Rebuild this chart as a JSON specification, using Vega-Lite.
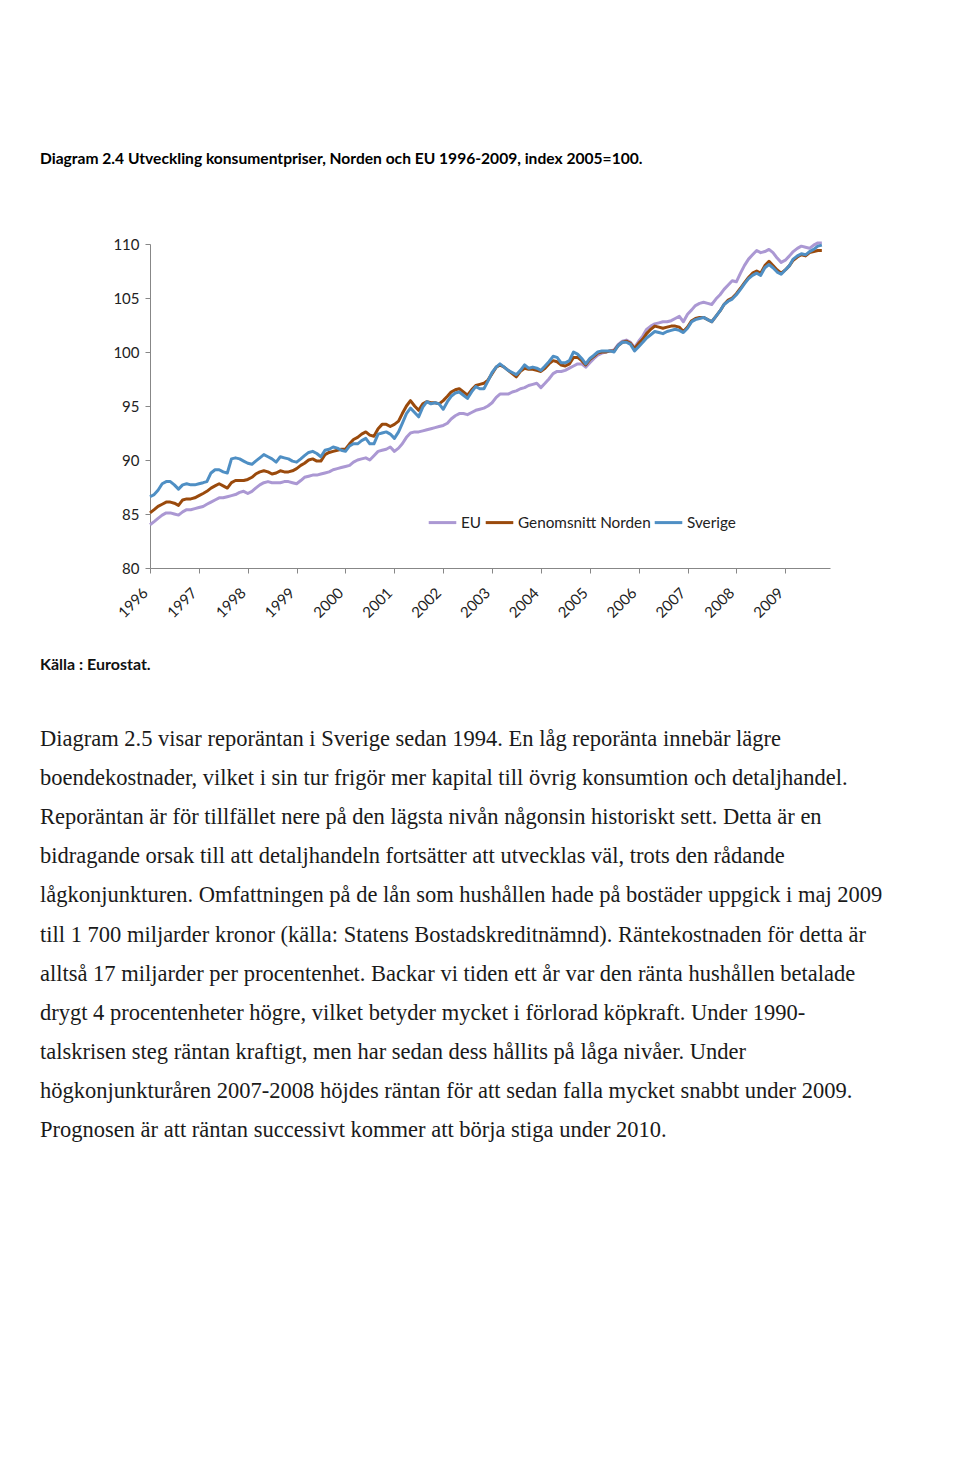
{
"$schema": "https://vega.github.io/schema/vega-lite/v6.json",
"width": 680, "height": 324,
"autosize": {"type": "none"},
"padding": {"left": 150, "top": 244, "right": 130, "bottom": 893},
"background": "white",
"title": {"text": "Diagram 2.4 Utveckling konsumentpriser, Norden och EU 1996-2009, index 2005=100.", "anchor": "start", "frame": "group", "dx": -110, "offset": 69, "font": "Lato", "fontSize": 15.6, "fontWeight": "bold", "color": "#000000"},
"config": {"view": {"stroke": null}, "font": "Lato"},
"resolve": {"scale": {"y": "independent"}},
"layer": [
{
"data": {"values": [
{"d":"1996-01","EU":84.0,"Genomsnitt Norden":85.1,"Sverige":86.6},
{"d":"1996-02","EU":84.3,"Genomsnitt Norden":85.4,"Sverige":86.8},
{"d":"1996-03","EU":84.6,"Genomsnitt Norden":85.7,"Sverige":87.2},
{"d":"1996-04","EU":84.9,"Genomsnitt Norden":85.9,"Sverige":87.8},
{"d":"1996-05","EU":85.1,"Genomsnitt Norden":86.1,"Sverige":88.0},
{"d":"1996-06","EU":85.1,"Genomsnitt Norden":86.1,"Sverige":88.0},
{"d":"1996-07","EU":85.0,"Genomsnitt Norden":86.0,"Sverige":87.7},
{"d":"1996-08","EU":84.9,"Genomsnitt Norden":85.8,"Sverige":87.3},
{"d":"1996-09","EU":85.2,"Genomsnitt Norden":86.3,"Sverige":87.7},
{"d":"1996-10","EU":85.4,"Genomsnitt Norden":86.4,"Sverige":87.8},
{"d":"1996-11","EU":85.4,"Genomsnitt Norden":86.4,"Sverige":87.7},
{"d":"1996-12","EU":85.5,"Genomsnitt Norden":86.5,"Sverige":87.7},
{"d":"1997-01","EU":85.6,"Genomsnitt Norden":86.7,"Sverige":87.8},
{"d":"1997-02","EU":85.7,"Genomsnitt Norden":86.9,"Sverige":87.9},
{"d":"1997-03","EU":85.9,"Genomsnitt Norden":87.1,"Sverige":88.0},
{"d":"1997-04","EU":86.1,"Genomsnitt Norden":87.4,"Sverige":88.8},
{"d":"1997-05","EU":86.3,"Genomsnitt Norden":87.6,"Sverige":89.1},
{"d":"1997-06","EU":86.5,"Genomsnitt Norden":87.8,"Sverige":89.1},
{"d":"1997-07","EU":86.5,"Genomsnitt Norden":87.6,"Sverige":88.9},
{"d":"1997-08","EU":86.6,"Genomsnitt Norden":87.4,"Sverige":88.8},
{"d":"1997-09","EU":86.7,"Genomsnitt Norden":87.9,"Sverige":90.1},
{"d":"1997-10","EU":86.8,"Genomsnitt Norden":88.1,"Sverige":90.2},
{"d":"1997-11","EU":87.0,"Genomsnitt Norden":88.1,"Sverige":90.1},
{"d":"1997-12","EU":87.1,"Genomsnitt Norden":88.1,"Sverige":89.9},
{"d":"1998-01","EU":86.9,"Genomsnitt Norden":88.2,"Sverige":89.7},
{"d":"1998-02","EU":87.1,"Genomsnitt Norden":88.4,"Sverige":89.6},
{"d":"1998-03","EU":87.4,"Genomsnitt Norden":88.7,"Sverige":89.9},
{"d":"1998-04","EU":87.7,"Genomsnitt Norden":88.9,"Sverige":90.2},
{"d":"1998-05","EU":87.9,"Genomsnitt Norden":89.0,"Sverige":90.5},
{"d":"1998-06","EU":88.0,"Genomsnitt Norden":88.9,"Sverige":90.3},
{"d":"1998-07","EU":87.9,"Genomsnitt Norden":88.7,"Sverige":90.1},
{"d":"1998-08","EU":87.9,"Genomsnitt Norden":88.8,"Sverige":89.8},
{"d":"1998-09","EU":87.9,"Genomsnitt Norden":89.0,"Sverige":90.3},
{"d":"1998-10","EU":88.0,"Genomsnitt Norden":88.9,"Sverige":90.2},
{"d":"1998-11","EU":88.0,"Genomsnitt Norden":88.9,"Sverige":90.1},
{"d":"1998-12","EU":87.9,"Genomsnitt Norden":89.0,"Sverige":89.9},
{"d":"1999-01","EU":87.8,"Genomsnitt Norden":89.2,"Sverige":89.8},
{"d":"1999-02","EU":88.1,"Genomsnitt Norden":89.5,"Sverige":90.1},
{"d":"1999-03","EU":88.4,"Genomsnitt Norden":89.7,"Sverige":90.4},
{"d":"1999-04","EU":88.5,"Genomsnitt Norden":90.0,"Sverige":90.7},
{"d":"1999-05","EU":88.6,"Genomsnitt Norden":90.1,"Sverige":90.8},
{"d":"1999-06","EU":88.6,"Genomsnitt Norden":89.9,"Sverige":90.6},
{"d":"1999-07","EU":88.7,"Genomsnitt Norden":89.9,"Sverige":90.3},
{"d":"1999-08","EU":88.8,"Genomsnitt Norden":90.5,"Sverige":90.9},
{"d":"1999-09","EU":88.9,"Genomsnitt Norden":90.7,"Sverige":91.0},
{"d":"1999-10","EU":89.1,"Genomsnitt Norden":90.8,"Sverige":91.2},
{"d":"1999-11","EU":89.2,"Genomsnitt Norden":90.9,"Sverige":91.1},
{"d":"1999-12","EU":89.3,"Genomsnitt Norden":91.0,"Sverige":90.9},
{"d":"2000-01","EU":89.4,"Genomsnitt Norden":91.0,"Sverige":90.8},
{"d":"2000-02","EU":89.5,"Genomsnitt Norden":91.5,"Sverige":91.3},
{"d":"2000-03","EU":89.8,"Genomsnitt Norden":91.9,"Sverige":91.5},
{"d":"2000-04","EU":90.0,"Genomsnitt Norden":92.1,"Sverige":91.5},
{"d":"2000-05","EU":90.1,"Genomsnitt Norden":92.4,"Sverige":91.8},
{"d":"2000-06","EU":90.2,"Genomsnitt Norden":92.6,"Sverige":92.0},
{"d":"2000-07","EU":90.0,"Genomsnitt Norden":92.3,"Sverige":91.5},
{"d":"2000-08","EU":90.4,"Genomsnitt Norden":92.2,"Sverige":91.5},
{"d":"2000-09","EU":90.8,"Genomsnitt Norden":92.9,"Sverige":92.4},
{"d":"2000-10","EU":90.9,"Genomsnitt Norden":93.3,"Sverige":92.5},
{"d":"2000-11","EU":91.0,"Genomsnitt Norden":93.3,"Sverige":92.6},
{"d":"2000-12","EU":91.2,"Genomsnitt Norden":93.1,"Sverige":92.4},
{"d":"2001-01","EU":90.8,"Genomsnitt Norden":93.3,"Sverige":92.0},
{"d":"2001-02","EU":91.1,"Genomsnitt Norden":93.6,"Sverige":92.6},
{"d":"2001-03","EU":91.5,"Genomsnitt Norden":94.3,"Sverige":93.4},
{"d":"2001-04","EU":92.1,"Genomsnitt Norden":95.0,"Sverige":94.3},
{"d":"2001-05","EU":92.5,"Genomsnitt Norden":95.5,"Sverige":94.8},
{"d":"2001-06","EU":92.6,"Genomsnitt Norden":95.0,"Sverige":94.4},
{"d":"2001-07","EU":92.6,"Genomsnitt Norden":94.6,"Sverige":94.0},
{"d":"2001-08","EU":92.7,"Genomsnitt Norden":95.2,"Sverige":94.9},
{"d":"2001-09","EU":92.8,"Genomsnitt Norden":95.4,"Sverige":95.4},
{"d":"2001-10","EU":92.9,"Genomsnitt Norden":95.3,"Sverige":95.2},
{"d":"2001-11","EU":93.0,"Genomsnitt Norden":95.3,"Sverige":95.3},
{"d":"2001-12","EU":93.1,"Genomsnitt Norden":95.2,"Sverige":95.2},
{"d":"2002-01","EU":93.2,"Genomsnitt Norden":95.5,"Sverige":94.7},
{"d":"2002-02","EU":93.4,"Genomsnitt Norden":95.9,"Sverige":95.4},
{"d":"2002-03","EU":93.8,"Genomsnitt Norden":96.3,"Sverige":95.9},
{"d":"2002-04","EU":94.1,"Genomsnitt Norden":96.5,"Sverige":96.2},
{"d":"2002-05","EU":94.3,"Genomsnitt Norden":96.6,"Sverige":96.3},
{"d":"2002-06","EU":94.3,"Genomsnitt Norden":96.3,"Sverige":96.0},
{"d":"2002-07","EU":94.2,"Genomsnitt Norden":96.0,"Sverige":95.7},
{"d":"2002-08","EU":94.4,"Genomsnitt Norden":96.5,"Sverige":96.3},
{"d":"2002-09","EU":94.6,"Genomsnitt Norden":96.9,"Sverige":96.8},
{"d":"2002-10","EU":94.7,"Genomsnitt Norden":97.0,"Sverige":96.6},
{"d":"2002-11","EU":94.8,"Genomsnitt Norden":97.1,"Sverige":96.6},
{"d":"2002-12","EU":95.0,"Genomsnitt Norden":97.4,"Sverige":97.3},
{"d":"2003-01","EU":95.3,"Genomsnitt Norden":98.0,"Sverige":98.1},
{"d":"2003-02","EU":95.8,"Genomsnitt Norden":98.6,"Sverige":98.6},
{"d":"2003-03","EU":96.1,"Genomsnitt Norden":98.8,"Sverige":98.9},
{"d":"2003-04","EU":96.1,"Genomsnitt Norden":98.6,"Sverige":98.6},
{"d":"2003-05","EU":96.1,"Genomsnitt Norden":98.3,"Sverige":98.3},
{"d":"2003-06","EU":96.3,"Genomsnitt Norden":98.0,"Sverige":98.1},
{"d":"2003-07","EU":96.4,"Genomsnitt Norden":97.7,"Sverige":97.9},
{"d":"2003-08","EU":96.6,"Genomsnitt Norden":98.2,"Sverige":98.3},
{"d":"2003-09","EU":96.7,"Genomsnitt Norden":98.5,"Sverige":98.8},
{"d":"2003-10","EU":96.9,"Genomsnitt Norden":98.4,"Sverige":98.5},
{"d":"2003-11","EU":97.0,"Genomsnitt Norden":98.4,"Sverige":98.6},
{"d":"2003-12","EU":97.1,"Genomsnitt Norden":98.3,"Sverige":98.5},
{"d":"2004-01","EU":96.7,"Genomsnitt Norden":98.2,"Sverige":98.3},
{"d":"2004-02","EU":97.1,"Genomsnitt Norden":98.5,"Sverige":98.7},
{"d":"2004-03","EU":97.5,"Genomsnitt Norden":98.9,"Sverige":99.1},
{"d":"2004-04","EU":98.0,"Genomsnitt Norden":99.2,"Sverige":99.6},
{"d":"2004-05","EU":98.2,"Genomsnitt Norden":99.1,"Sverige":99.5},
{"d":"2004-06","EU":98.2,"Genomsnitt Norden":98.8,"Sverige":99.0},
{"d":"2004-07","EU":98.3,"Genomsnitt Norden":98.7,"Sverige":99.0},
{"d":"2004-08","EU":98.5,"Genomsnitt Norden":98.9,"Sverige":99.2},
{"d":"2004-09","EU":98.7,"Genomsnitt Norden":99.5,"Sverige":100.0},
{"d":"2004-10","EU":98.9,"Genomsnitt Norden":99.5,"Sverige":99.8},
{"d":"2004-11","EU":98.9,"Genomsnitt Norden":99.2,"Sverige":99.4},
{"d":"2004-12","EU":98.6,"Genomsnitt Norden":98.8,"Sverige":98.9},
{"d":"2005-01","EU":99.0,"Genomsnitt Norden":99.3,"Sverige":99.4},
{"d":"2005-02","EU":99.4,"Genomsnitt Norden":99.6,"Sverige":99.7},
{"d":"2005-03","EU":99.7,"Genomsnitt Norden":99.9,"Sverige":100.0},
{"d":"2005-04","EU":99.9,"Genomsnitt Norden":100.0,"Sverige":100.1},
{"d":"2005-05","EU":100.0,"Genomsnitt Norden":100.0,"Sverige":100.1},
{"d":"2005-06","EU":100.1,"Genomsnitt Norden":100.1,"Sverige":100.1},
{"d":"2005-07","EU":100.2,"Genomsnitt Norden":100.1,"Sverige":100.0},
{"d":"2005-08","EU":100.7,"Genomsnitt Norden":100.6,"Sverige":100.6},
{"d":"2005-09","EU":101.0,"Genomsnitt Norden":100.9,"Sverige":100.9},
{"d":"2005-10","EU":101.1,"Genomsnitt Norden":101.0,"Sverige":100.9},
{"d":"2005-11","EU":100.9,"Genomsnitt Norden":100.8,"Sverige":100.7},
{"d":"2005-12","EU":100.4,"Genomsnitt Norden":100.3,"Sverige":100.1},
{"d":"2006-01","EU":101.0,"Genomsnitt Norden":100.8,"Sverige":100.5},
{"d":"2006-02","EU":101.5,"Genomsnitt Norden":101.2,"Sverige":100.9},
{"d":"2006-03","EU":102.1,"Genomsnitt Norden":101.7,"Sverige":101.3},
{"d":"2006-04","EU":102.4,"Genomsnitt Norden":102.1,"Sverige":101.6},
{"d":"2006-05","EU":102.6,"Genomsnitt Norden":102.4,"Sverige":101.9},
{"d":"2006-06","EU":102.7,"Genomsnitt Norden":102.3,"Sverige":101.8},
{"d":"2006-07","EU":102.8,"Genomsnitt Norden":102.2,"Sverige":101.7},
{"d":"2006-08","EU":102.8,"Genomsnitt Norden":102.3,"Sverige":101.9},
{"d":"2006-09","EU":102.9,"Genomsnitt Norden":102.4,"Sverige":102.0},
{"d":"2006-10","EU":103.1,"Genomsnitt Norden":102.4,"Sverige":102.1},
{"d":"2006-11","EU":103.3,"Genomsnitt Norden":102.3,"Sverige":102.0},
{"d":"2006-12","EU":102.8,"Genomsnitt Norden":101.9,"Sverige":101.8},
{"d":"2007-01","EU":103.5,"Genomsnitt Norden":102.3,"Sverige":102.2},
{"d":"2007-02","EU":103.9,"Genomsnitt Norden":102.9,"Sverige":102.8},
{"d":"2007-03","EU":104.3,"Genomsnitt Norden":103.1,"Sverige":103.0},
{"d":"2007-04","EU":104.5,"Genomsnitt Norden":103.2,"Sverige":103.1},
{"d":"2007-05","EU":104.6,"Genomsnitt Norden":103.2,"Sverige":103.2},
{"d":"2007-06","EU":104.5,"Genomsnitt Norden":103.0,"Sverige":103.0},
{"d":"2007-07","EU":104.4,"Genomsnitt Norden":102.8,"Sverige":102.8},
{"d":"2007-08","EU":104.9,"Genomsnitt Norden":103.3,"Sverige":103.3},
{"d":"2007-09","EU":105.3,"Genomsnitt Norden":103.8,"Sverige":103.8},
{"d":"2007-10","EU":105.8,"Genomsnitt Norden":104.4,"Sverige":104.4},
{"d":"2007-11","EU":106.2,"Genomsnitt Norden":104.8,"Sverige":104.7},
{"d":"2007-12","EU":106.6,"Genomsnitt Norden":105.0,"Sverige":104.9},
{"d":"2008-01","EU":106.5,"Genomsnitt Norden":105.4,"Sverige":105.3},
{"d":"2008-02","EU":107.3,"Genomsnitt Norden":105.9,"Sverige":105.8},
{"d":"2008-03","EU":108.0,"Genomsnitt Norden":106.4,"Sverige":106.3},
{"d":"2008-04","EU":108.6,"Genomsnitt Norden":106.9,"Sverige":106.8},
{"d":"2008-05","EU":109.0,"Genomsnitt Norden":107.3,"Sverige":107.1},
{"d":"2008-06","EU":109.4,"Genomsnitt Norden":107.5,"Sverige":107.3},
{"d":"2008-07","EU":109.2,"Genomsnitt Norden":107.3,"Sverige":107.1},
{"d":"2008-08","EU":109.3,"Genomsnitt Norden":108.0,"Sverige":107.8},
{"d":"2008-09","EU":109.5,"Genomsnitt Norden":108.4,"Sverige":108.1},
{"d":"2008-10","EU":109.2,"Genomsnitt Norden":108.0,"Sverige":107.8},
{"d":"2008-11","EU":108.7,"Genomsnitt Norden":107.6,"Sverige":107.4},
{"d":"2008-12","EU":108.3,"Genomsnitt Norden":107.3,"Sverige":107.2},
{"d":"2009-01","EU":108.5,"Genomsnitt Norden":107.6,"Sverige":107.6},
{"d":"2009-02","EU":108.9,"Genomsnitt Norden":108.0,"Sverige":108.0},
{"d":"2009-03","EU":109.3,"Genomsnitt Norden":108.5,"Sverige":108.6},
{"d":"2009-04","EU":109.6,"Genomsnitt Norden":108.8,"Sverige":108.9},
{"d":"2009-05","EU":109.8,"Genomsnitt Norden":109.0,"Sverige":109.1},
{"d":"2009-06","EU":109.7,"Genomsnitt Norden":108.9,"Sverige":109.0},
{"d":"2009-07","EU":109.6,"Genomsnitt Norden":109.2,"Sverige":109.3},
{"d":"2009-08","EU":109.9,"Genomsnitt Norden":109.3,"Sverige":109.5},
{"d":"2009-09","EU":110.1,"Genomsnitt Norden":109.4,"Sverige":109.8},
{"d":"2009-10","EU":110.1,"Genomsnitt Norden":109.4,"Sverige":109.9}
]},
"transform": [{"fold": ["EU", "Genomsnitt Norden", "Sverige"], "as": ["serie", "varde"]}],
"mark": {"type": "line", "strokeWidth": 3, "strokeJoin": "round"},
"encoding": {
"x": {"field": "d", "type": "temporal",
"scale": {"type": "utc", "domain": [{"year": 1996, "month": 1, "date": 1, "utc": true}, {"year": 2009, "month": 12, "date": 1, "utc": true}]},
"axis": {"title": null, "format": "%Y", "tickCount": {"interval": "year", "step": 1}, "labelAngle": -45, "labelAlign": "right", "labelBaseline": "middle", "labelPadding": 17, "labelOffset": -5, "tickSize": 5, "grid": false, "domainColor": "#878787", "tickColor": "#878787", "labelFont": "Lato", "labelFontSize": 15, "labelColor": "#222222", "labelOverlap": false, "labelFlush": false}},
"y": {"field": "varde", "type": "quantitative",
"scale": {"domain": [80, 110], "nice": false, "zero": false},
"axis": {"title": null, "values": [80, 85, 90, 95, 100, 105, 110], "grid": false, "tickSize": 5, "labelPadding": 6, "domainColor": "#878787", "tickColor": "#878787", "labelFont": "Lato", "labelFontSize": 15, "labelColor": "#222222"}},
"color": {"field": "serie", "type": "nominal",
"scale": {"domain": ["EU", "Genomsnitt Norden", "Sverige"], "range": ["#ab98d3", "#9a4a0c", "#4f8fc4"]},
"legend": {"title": null, "orient": "none", "legendX": 277, "legendY": 263, "direction": "horizontal", "symbolType": "stroke", "symbolSize": 760, "symbolStrokeWidth": 3, "labelFont": "Lato", "labelFontSize": 15.3, "labelColor": "#222222", "columnPadding": -3, "labelOffset": 3}}
}
},
{
"data": {"values": [{"row": 0, "t": "Källa : Eurostat."}]},
"mark": {"type": "text", "align": "left", "baseline": "middle", "dx": -450, "font": "Lato", "fontSize": 16, "fontWeight": "bold", "color": "#111111"},
"encoding": {
"y": {"field": "row", "type": "quantitative", "scale": {"domain": [0, 1], "range": [421, 461]}, "axis": null},
"text": {"field": "t", "type": "nominal"}
}
},
{
"data": {"values": [
{"row": 0, "t": "Diagram 2.5 visar reporäntan i Sverige sedan 1994. En låg reporänta innebär lägre"},
{"row": 1, "t": "boendekostnader, vilket i sin tur frigör mer kapital till övrig konsumtion och detaljhandel."},
{"row": 2, "t": "Reporäntan är för tillfället nere på den lägsta nivån någonsin historiskt sett. Detta är en"},
{"row": 3, "t": "bidragande orsak till att detaljhandeln fortsätter att utvecklas väl, trots den rådande"},
{"row": 4, "t": "lågkonjunkturen. Omfattningen på de lån som hushållen hade på bostäder uppgick i maj 2009"},
{"row": 5, "t": "till 1 700 miljarder kronor (källa: Statens Bostadskreditnämnd). Räntekostnaden för detta är"},
{"row": 6, "t": "alltså 17 miljarder per procentenhet. Backar vi tiden ett år var den ränta hushållen betalade"},
{"row": 7, "t": "drygt 4 procentenheter högre, vilket betyder mycket i förlorad köpkraft. Under 1990-"},
{"row": 8, "t": "talskrisen steg räntan kraftigt, men har sedan dess hållits på låga nivåer. Under"},
{"row": 9, "t": "högkonjunkturåren 2007-2008 höjdes räntan för att sedan falla mycket snabbt under 2009."},
{"row": 10, "t": "Prognosen är att räntan successivt kommer att börja stiga under 2010."}
]},
"mark": {"type": "text", "align": "left", "baseline": "middle", "dx": -450, "font": "Liberation Serif", "fontSize": 22.5, "color": "#1a1a1a"},
"encoding": {
"y": {"field": "row", "type": "quantitative", "scale": {"domain": [0, 10], "range": [495, 886]}, "axis": null},
"text": {"field": "t", "type": "nominal"}
}
}
]
}
